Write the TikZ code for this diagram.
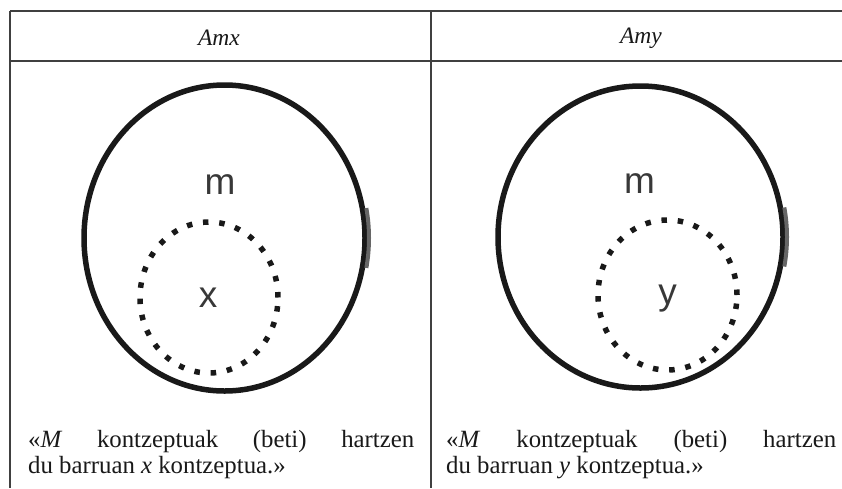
\documentclass[tikz,border=0pt]{standalone}
\usepackage{fontspec}
\setmainfont{Liberation Serif}
\newfontfamily\labelfont{Liberation Sans}
\usetikzlibrary{shapes.geometric}
\begin{document}
\begin{tikzpicture}[x=1pt,y=-1pt,
  rule/.style={draw=black!75, line width=1.4pt},
  thickrule/.style={draw=black!75, line width=2pt},
  outerset/.style={ellipse, draw=black!90, line width=5.5pt, inner sep=0pt, outer sep=0pt},
  innerset/.style={ellipse, draw=black!90, line width=5.5pt, inner sep=0pt, outer sep=0pt,
                   dash pattern=on 5.5pt off 10.8pt},
  smear/.style={draw=black!60, line width=4pt},
  setlabel/.style={font=\labelfont\fontsize{37}{44}\selectfont, text=black!78, inner sep=0pt},
  head/.style={font=\fontsize{23.5}{27}\selectfont\itshape, text=black!90, inner sep=0pt},
  body/.style={font=\fontsize{24.8}{27}\selectfont, text=black!90, inner sep=0pt, anchor=base west}]
\useasboundingbox (0,0) rectangle (842,488);

% table rules
\draw[rule] (10,11) -- (842,11);
\draw[thickrule] (10,61) -- (842,61);
\draw[rule] (10,11) -- (10,488);
\draw[thickrule] (431,11) -- (431,488);

% column headings
\node[head] (hx) at (219,38) {Amx};
\node[head] (hy) at (641,38) {Amy};

% left diagram: m contains x
\node[outerset, minimum width=281pt, minimum height=306pt] (mL) at (224.5,238) {};
\node[innerset, minimum width=138pt, minimum height=151pt] (xL) at (209,297.5) {};
\path[smear] (mL.center) ++(-11:144.5 and 157) arc[start angle=-11, end angle=11, x radius=144.5, y radius=157];
\node[setlabel] (lmL) at (220,185) {m};
\node[setlabel] (lx) at (208,298) {x};

% right diagram: m contains y
\node[outerset, minimum width=285pt, minimum height=302pt] (mR) at (640.5,237) {};
\node[innerset, minimum width=139pt, minimum height=150pt] (yR) at (667.5,295) {};
\path[smear] (mR.center) ++(-11:146.5 and 155) arc[start angle=-11, end angle=11, x radius=146.5, y radius=155];
\node[setlabel] (lmR) at (639.5,184) {m};
\node[setlabel] (ly) at (667.5,299) {y};

% captions
\node[body] (cL1) at (28,447) {\makebox[386pt][s]{«\textit{M} kontzeptuak (beti) hartzen}};
\node[body] (cL2) at (28,473.5) {du barruan \textit{x} kontzeptua.»};
\node[body] (cR1) at (446,447) {\makebox[390pt][s]{«\textit{M} kontzeptuak (beti) hartzen}};
\node[body] (cR2) at (446,473.5) {du barruan \textit{y} kontzeptua.»};
\end{tikzpicture}
\end{document}
